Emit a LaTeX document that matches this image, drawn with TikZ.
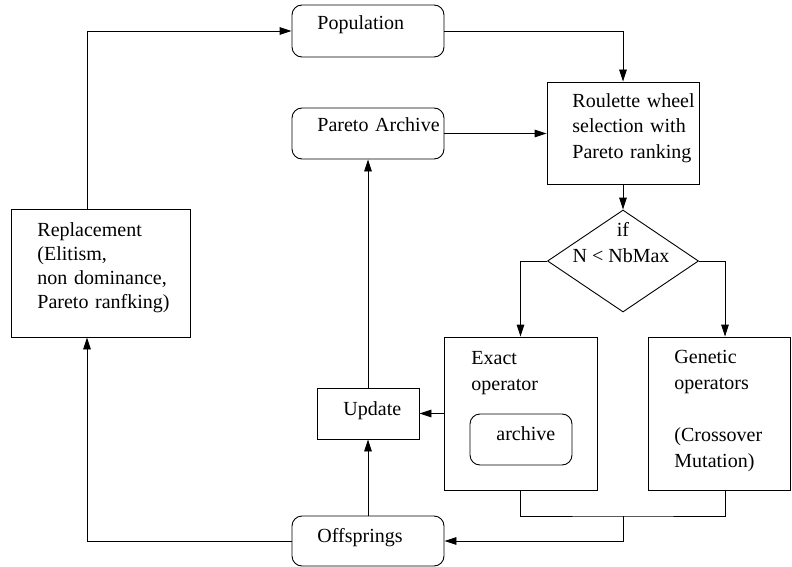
\documentclass[tikz,border=0pt]{standalone}
\usepackage{fontspec}
\setmainfont{Liberation Serif}
\usetikzlibrary{arrows.meta,shapes.geometric}
\begin{document}
\begin{tikzpicture}[x=0.5pt,y=-0.5pt,
  line width=0.45pt,
  box/.style={draw,rectangle,inner sep=0pt},
  rbox/.style={box,rounded corners=5pt},
  txt/.style={inner sep=0pt,anchor=base west,text width=95pt,align=left,font=\fontsize{10}{12}\selectfont},
  ctxt/.style={inner sep=0pt,anchor=base,font=\fontsize{10}{12}\selectfont},
  arr/.style={-{Triangle[length=6pt,width=3.8pt]}}
]
\useasboundingbox (0,0) rectangle (792,567);

% boxes
\node[rbox,minimum width=76pt,minimum height=26pt] (pop) at (368,31) {};
\node[rbox,minimum width=76pt,minimum height=25.5pt] (arch) at (368,133.5) {};
\node[box,minimum width=76pt,minimum height=51pt] (rou) at (623,133) {};
\node[draw,diamond,inner sep=0pt,minimum width=75.5pt,minimum height=51pt] (dia) at (623,261) {};
\node[box,minimum width=76.5pt,minimum height=76.5pt] (exa) at (520.5,413.5) {};
\node[box,minimum width=71pt,minimum height=76.5pt] (gen) at (719,413.5) {};
\node[rbox,minimum width=51pt,minimum height=25.5pt] (inarch) at (521,439.5) {};
\node[box,minimum width=51pt,minimum height=25.5pt] (upd) at (368,413.5) {};
\node[rbox,minimum width=76pt,minimum height=25pt] (off) at (368,541) {};
\node[box,minimum width=89.5pt,minimum height=64pt] (rep) at (100.5,273) {};

% texts
\node[txt] (popt) at (317,30) {Population};
\node[txt] (archt) at (317,131.5) {Pareto Archive};
\node[txt,font=\fontsize{10}{12.5}\selectfont] (rout) at (572,108) {Roulette wheel\\selection with\\Pareto ranking};
\node[ctxt] (diat1) at (623,236) {if};
\node[ctxt] (diat2) at (621,262) {N < NbMax};
\node[txt,font=\fontsize{10}{13}\selectfont] (exat) at (471,364) {Exact\\operator};
\node[txt] (inarcht) at (496,440) {archive};
\node[txt,font=\fontsize{10}{13}\selectfont] (gent) at (674,363) {Genetic\\operators\\[13pt](Crossover\\Mutation)};
\node[txt] (updt) at (343,415) {Update};
\node[txt] (offt) at (317,542) {Offsprings};
\node[txt] (rept) at (37,236) {Replacement\\(Elitism,\\non dominance,\\Pareto ranfking)};

% connectors
\draw[arr] ([xshift=-6.75pt]rep.north) |- (pop.west);
\draw[arr] (pop.east) -| (rou.north);
\draw[arr] (arch.east) -- (arch.east -| rou.west);
\draw[arr] (rou.south) -- (dia.north);
\draw[arr] (dia.west) -| (exa.north);
\draw[arr] (dia.east) -| ([xshift=3pt]gen.north);
\coordinate (j) at (623,516);
\draw (exa.south) |- (j) -| ([xshift=3pt]gen.south);
\draw[arr] (j) |- (off.east);
\draw[arr] (off.north) -- (upd.south);
\draw[arr] (upd.north) -- (arch.south);
\draw[arr] (exa.west) -- (upd.east);
\draw[arr] (off.west) -| ([xshift=-6.75pt]rep.south);
\end{tikzpicture}
\end{document}
